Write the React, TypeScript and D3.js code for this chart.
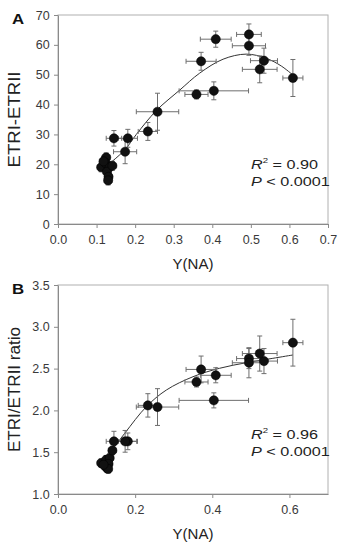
import React, { useRef, useEffect } from "react";
import * as d3 from "d3";

// sample values (shared x between both panels)
const yna = [0.495, 0.495, 0.409, 0.371, 0.534, 0.523, 0.609, 0.404, 0.359, 0.258, 0.233, 0.145, 0.181, 0.174,
  0.112, 0.125, 0.124, 0.134, 0.127, 0.131, 0.13, 0.141, 0.118];
const ynaErr = [0.032, 0.043, 0.04, 0.039, 0.035, 0.045, 0.026, 0.09, 0.03, 0.055, 0.025, 0.02, 0.025, 0.03,
  0.01, 0.01, 0.01, 0.01, 0.01, 0.01, 0.01, 0.01, 0.01];
const etrDiff = [63.5, 59.7, 61.9, 54.5, 54.7, 51.8, 48.9, 44.6, 43.4, 37.6, 31.0, 28.7, 28.7, 24.2,
  19.0, 22.3, 20.3, 19.2, 17.5, 15.8, 14.6, 19.5, 21.0];
const etrDiffErr = [3.5, 3.2, 2.7, 3.0, 4.2, 4.5, 6.2, 3.0, 1.5, 6.2, 3.0, 2.6, 3.0, 4.0,
  1.5, 1.5, 1.5, 1.5, 1.5, 1.5, 1.5, 1.5, 1.5];
const etrRatio = [2.62, 2.57, 2.42, 2.49, 2.59, 2.68, 2.81, 2.12, 2.34, 2.04, 2.06, 1.63, 1.63, 1.63,
  1.37, 1.41, 1.33, 1.43, 1.31, 1.36, 1.3, 1.52, 1.35];
const etrRatioErr = [0.12, 0.18, 0.09, 0.16, 0.15, 0.21, 0.28, 0.09, 0.06, 0.22, 0.14, 0.12, 0.1, 0.13,
  0.05, 0.05, 0.05, 0.05, 0.05, 0.05, 0.05, 0.05, 0.05];

// fitted curves
const fitA: [number, number][] = [[0.12, 18.8], [0.173, 24.8], [0.203, 30.0], [0.255, 38.0], [0.316, 44.9],
  [0.367, 50.5], [0.428, 55.2], [0.488, 56.9], [0.54, 55.5], [0.579, 52.9], [0.609, 49.9]];
const fitB: [number, number][] = [[0.12, 1.4], [0.173, 1.726], [0.229, 2.044], [0.281, 2.244], [0.35, 2.403],
  [0.419, 2.504], [0.489, 2.571], [0.557, 2.623], [0.609, 2.663]];

const ticksA_x = [0, 0.1, 0.2, 0.3, 0.4, 0.5, 0.6, 0.7];
const ticksA_y = [0, 10, 20, 30, 40, 50, 60, 70];
const ticksB_x = [0, 0.2, 0.4, 0.6];
const ticksB_y = [1.0, 1.5, 2.0, 2.5, 3.0, 3.5];

const FONT = "Liberation Sans, Arial, sans-serif";

const Panel = ({ top, ys, yErr, yDomain, xTicks, yTicks, yFmt, xFmt, fit, letter, yTitle, yTitleLen, r2 }) => {
  const gRef = useRef(null);
  const left = 58;
  const right = 328;
  const h = 209;

  useEffect(() => {
    const g = d3.select(gRef.current);
    g.selectAll("*").remove();

    const x = d3.scaleLinear().domain([0, 0.7]).range([left, right]);
    const y = d3.scaleLinear().domain(yDomain).range([top + h, top]);

    // frame
    g.append("rect")
      .attr("x", left).attr("y", top).attr("width", right - left).attr("height", h)
      .attr("fill", "none").attr("stroke", "#b0b0b0").attr("stroke-width", 1);

    // axes
    const xAxis = g.append("g").attr("transform", `translate(0,${top + h})`)
      .call(d3.axisBottom(x).tickValues(xTicks).tickFormat(d3.format(xFmt)).tickSize(4).tickSizeOuter(0));
    const yAxis = g.append("g").attr("transform", `translate(${left},0)`)
      .call(d3.axisLeft(y).tickValues(yTicks).tickFormat(d3.format(yFmt)).tickSize(4).tickSizeOuter(0));
    [xAxis, yAxis].forEach((a) => {
      a.selectAll("path, line").attr("stroke", "#8a8a8a");
      a.selectAll("text").attr("fill", "#3a3a3a").style("font-family", FONT).style("font-size", "12.5px");
    });
    xAxis.selectAll("text").attr("dy", "1.0em");
    yAxis.selectAll("text").attr("dx", "-0.1em");

    // fit curve
    const line = d3.line().x((d) => x(d[0])).y((d) => y(d[1])).curve(d3.curveCatmullRom.alpha(0.5));
    g.append("path").datum(fit).attr("d", line).attr("fill", "none").attr("stroke", "#333").attr("stroke-width", 1);

    // error bars
    const idx = d3.range(ys.length);
    const eb = g.append("g").attr("stroke", "#6e6e6e").attr("stroke-width", 1);
    idx.forEach((i) => {
      const cx = x(yna[i]), cy = y(ys[i]);
      const x0 = x(yna[i] - ynaErr[i]), x1 = x(yna[i] + ynaErr[i]);
      const y0 = y(ys[i] - yErr[i]), y1 = y(ys[i] + yErr[i]);
      eb.append("line").attr("x1", x0).attr("x2", x1).attr("y1", cy).attr("y2", cy);
      eb.append("line").attr("x1", x0).attr("x2", x0).attr("y1", cy - 2.5).attr("y2", cy + 2.5);
      eb.append("line").attr("x1", x1).attr("x2", x1).attr("y1", cy - 2.5).attr("y2", cy + 2.5);
      eb.append("line").attr("x1", cx).attr("x2", cx).attr("y1", y0).attr("y2", y1);
      eb.append("line").attr("x1", cx - 2.5).attr("x2", cx + 2.5).attr("y1", y0).attr("y2", y0);
      eb.append("line").attr("x1", cx - 2.5).attr("x2", cx + 2.5).attr("y1", y1).attr("y2", y1);
    });

    // points
    g.append("g").selectAll("circle").data(idx).enter().append("circle")
      .attr("cx", (i) => x(yna[i])).attr("cy", (i) => y(ys[i])).attr("r", 4.6)
      .attr("fill", "#111").attr("stroke", "#000").attr("stroke-width", 0.5);
  }, []);

  const midY = top + h / 2;
  return (
    <g>
      <g ref={gRef}></g>
      <text transform={`translate(12,${top + 9}) scale(1.2,1)`} style={{ fontFamily: FONT, fontSize: 14, fontWeight: "bold" }} fill="#111">{letter}</text>
      <text transform={`translate(20,${midY}) rotate(-90)`} textAnchor="middle" textLength={yTitleLen}
        lengthAdjust="spacingAndGlyphs" style={{ fontFamily: FONT, fontSize: 16 }} fill="#222">{yTitle}</text>
      <text x={193} y={top + h + 45} textAnchor="middle" style={{ fontFamily: FONT, fontSize: 15 }} fill="#222">Y(NA)</text>
      <g transform={`translate(251,${top + 154}) scale(1.2,1)`} style={{ fontFamily: FONT, fontSize: 13.5 }} fill="#222">
        <text x={0} y={0}>
          <tspan fontStyle="italic">R</tspan>
          <tspan dy={-6} fontSize={8}>2</tspan>
          <tspan dy={6}>{" = " + r2}</tspan>
        </text>
        <text x={0} y={17}>
          <tspan fontStyle="italic">P</tspan>
          <tspan>{" < 0.0001"}</tspan>
        </text>
      </g>
    </g>
  );
};

export default function App() {
  return (
    <svg width={343} height={550} style={{ position: "absolute", left: 0, top: 0, background: "#fff" }}>
      <rect width={343} height={550} fill="#fff" />
      <Panel top={15} ys={etrDiff} yErr={etrDiffErr} yDomain={[0, 70]} xTicks={ticksA_x} yTicks={ticksA_y}
        yFmt="d" xFmt=".1f" fit={fitA} letter="A" yTitle="ETRI-ETRII" yTitleLen={96} r2="0.90" />
      <Panel top={285} ys={etrRatio} yErr={etrRatioErr} yDomain={[1, 3.5]} xTicks={ticksB_x} yTicks={ticksB_y}
        yFmt=".1f" xFmt=".1f" fit={fitB} letter="B" yTitle="ETRI/ETRII ratio" yTitleLen={125} r2="0.96" />
    </svg>
  );
}
